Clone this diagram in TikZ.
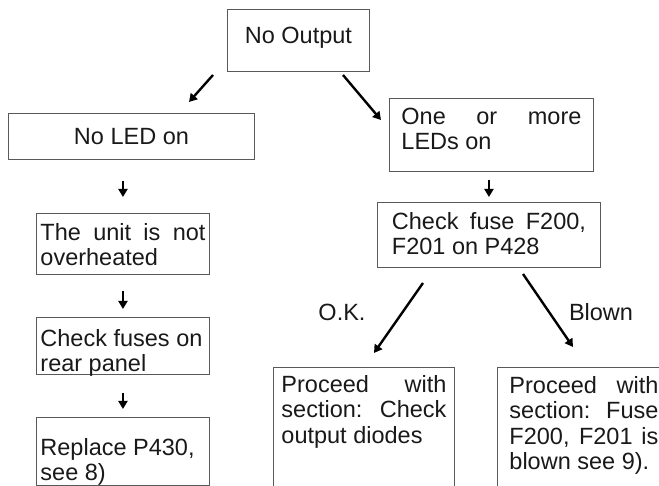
\documentclass[tikz,border=0pt]{standalone}
\usepackage{fontspec}
\setmainfont{Liberation Sans}
\usetikzlibrary{arrows.meta}
\definecolor{boxline}{gray}{0.35}
\definecolor{inkdark}{gray}{0.1}
\newcommand{\jline}[1]{{\spaceskip=0pt\xspaceskip=0pt\makebox[\hsize][s]{#1}}}

\begin{document}
\begin{tikzpicture}[x=1pt, y=-1pt,
		centerbox/.style={draw=boxline, line width=0.9pt, anchor=north west, inner ysep=0pt, inner xsep=4pt, text=inkdark, font=\fontsize{23.5}{25.5}\selectfont},
		flowbox/.style={centerbox, align=left, execute at begin node={\spaceskip=0pt\xspaceskip=0pt}},
		flowarrow/.style={draw=black, line width=2.4pt, -{Triangle[length=8pt, width=9pt]}},
		branchlbl/.style={anchor=base, text=inkdark, font=\fontsize{23.5}{25.5}\selectfont}
	]
	\useasboundingbox (0,0) rectangle (659,486);
	\clip (0,0) rectangle (659,486);

	% top
	\node[centerbox, minimum width=142pt, text height=34pt, text depth=28pt] (noout) at (227,9) {No Output};

	% left branch
	\node[centerbox, minimum width=246pt, text height=31pt, text depth=15pt] (noled) at (8,113) {No LED on};
	\node[flowbox, text width=165pt, text height=27pt, text depth=34pt] (unit) at (36,213) {\jline{The unit is not}\\overheated};
	\node[flowbox, text width=165pt, text height=29pt, text depth=28pt] (fuses) at (36,317) {Check fuses on\\rear panel};
	\node[flowbox, text width=165pt, text height=38pt, text depth=30pt] (replace) at (36,417) {Replace P430,\\see 8)};

	% right branch
	\node[flowbox, inner xsep=12pt, text width=180pt, text height=26pt, text depth=47pt] (onemore) at (389,98) {\jline{One or more}\\LEDs on};
	\node[flowbox, inner xsep=12pt, text width=194pt, minimum width=223pt, text height=27pt, text depth=38pt] (chkfuse) at (377,202) {\jline{Check fuse F200,}\\F201 on P428};
	\node[flowbox, inner xsep=8pt, text width=165pt, text height=25pt, text depth=128pt] (procok) at (273,367) {\jline{Proceed with}\\\jline{section: Check}\\output diodes};
	\node[flowbox, inner xsep=12pt, text width=149pt, text height=26pt, text depth=128pt] (procblown) at (497,367) {\jline{Proceed with}\\\jline{section: Fuse}\\\jline{F200, F201 is}\\blown see 9).};

	% arrow ends
	\coordinate (noledtail) at (213,75);
	\coordinate (noledtip) at (189,102);
	\coordinate (moretail) at (343,75);
	\coordinate (moretip) at (381,120);
	\coordinate (oktail) at (423,283);
	\coordinate (oktip) at (374,353);
	\coordinate (blowntail) at (523,274);
	\coordinate (blowntip) at (573,347);

	\draw[flowarrow] (noledtail) -- (noledtip);
	\draw[flowarrow] (moretail) -- (moretip);
	\draw[flowarrow] (oktail) -- (oktip);
	\draw[flowarrow] (blowntail) -- (blowntip);

	\draw[flowarrow, shorten <=21pt, shorten >=16pt] (noled.south -| unit.north) -- (unit.north);
	\draw[flowarrow, shorten <=16pt, shorten >=8pt] (unit.south) -- (fuses.north);
	\draw[flowarrow, shorten <=18pt, shorten >=8pt] (fuses.south) -- (replace.north);
	\draw[flowarrow, shorten <=8pt, shorten >=5pt] (onemore.south -| chkfuse.north) -- (chkfuse.north);

	% branch labels
	\node[branchlbl] (oklbl) at (342,321) {O.K.};
	\node[branchlbl] (blownlbl) at (601,321) {Blown};
\end{tikzpicture}
\end{document}
